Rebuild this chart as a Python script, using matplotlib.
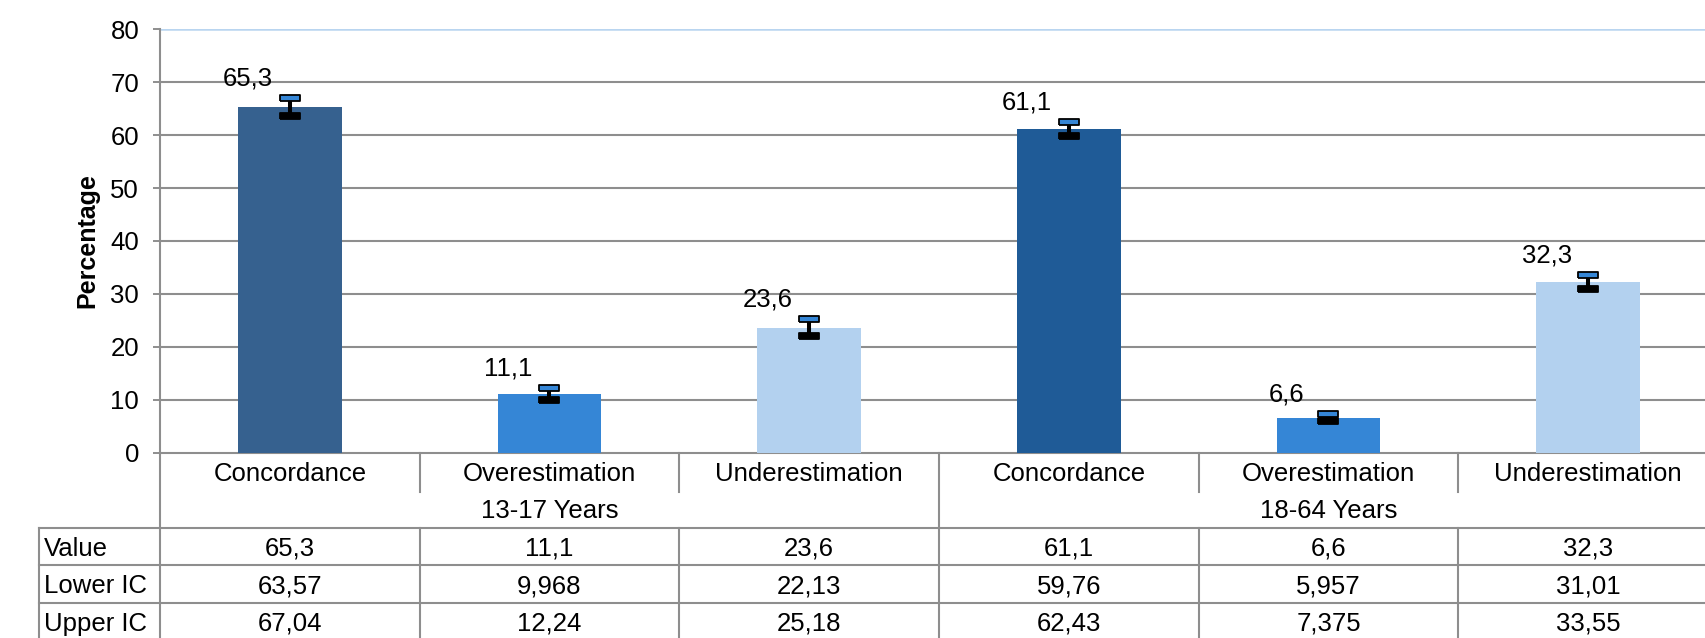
import matplotlib.pyplot as plt
from matplotlib.path import Path

plt.rcParams["font.family"] = ["Liberation Sans", "DejaVu Sans"]
plt.rcParams["font.size"] = 18.5

# ==============================================
# DATA

categories = ["Concordance", "Overestimation", "Underestimation"]
groups = ["13-17 Years", "18-64 Years"]
values = [65.3, 11.1, 23.6, 61.1, 6.6, 32.3]
lower_ic = [63.57, 9.968, 22.13, 59.76, 5.957, 31.01]
upper_ic = [67.04, 12.24, 25.18, 62.43, 7.375, 33.55]
row_labels = ["Value", "Lower IC", "Upper IC"]
bar_colors = ["#36618f", "#3586d6", "#b3d1ef", "#1f5b97", "#3586d6", "#b3d1ef"]

y_max = 80
y_step = 10


def fmt(v):
    return str(v).replace(".", ",")


# ==============================================
# PLOT

W, H = 1706, 638
fig = plt.figure(figsize=(W / 100, H / 100), dpi=100)

# plot area runs a bit past the right edge of the picture
left_px, right_px, top_px, zero_px, table_bottom_px = 160, 1718, 29.4, 452.6, 640
ax = fig.add_axes([left_px / W, (H - zero_px) / H, (right_px - left_px) / W, (zero_px - top_px) / H])

grid_color = "#8e8e8e"
fs = 18.5
n = len(values)
x = list(range(n))

ax.bar(x, values, width=0.4, color=bar_colors, zorder=3)

# error bars: black stem, blue top cap, black bottom cap
err_low = [v - lo for v, lo in zip(values, lower_ic)]
err_high = [hi - v for v, hi in zip(values, upper_ic)]
ax.errorbar(x, values, yerr=[err_low, err_high], fmt="none", ecolor="black", elinewidth=2.9, capsize=0, zorder=4)
cap = Path([(-1, -0.28), (1, -0.28), (1, 0.28), (-1, 0.28), (-1, -0.28)])
ax.plot(x, upper_ic, ls="none", marker=cap, ms=14, mfc="#3586d6", mec="black", mew=1.3, zorder=5)
ax.plot(x, lower_ic, ls="none", marker=cap, ms=14, mfc="black", mec="black", mew=1.3, zorder=5)

# value labels, up and to the left of each bar
for xi, v, hi in zip(x, values, upper_ic):
    ax.text(xi - 0.16, hi + 3.7, fmt(v), ha="center", va="center", fontsize=fs, zorder=6)

ax.set_xlim(-0.5, n - 0.5)
ax.set_ylim(0, y_max)
ax.set_yticks(range(0, y_max + 1, y_step))
ax.set_xticks([])
ax.tick_params(axis="y", direction="out", length=5, width=1.4, color=grid_color, pad=10, labelsize=fs)

for yv in range(y_step, y_max, y_step):
    ax.axhline(yv, color=grid_color, lw=1.5, zorder=1)
ax.axhline(y_max, color="#b9d5f0", lw=1.8, zorder=1)

for s in ["top", "right"]:
    ax.spines[s].set_visible(False)
for s in ["left", "bottom"]:
    ax.spines[s].set_color(grid_color)
    ax.spines[s].set_linewidth(1.5)

ax.set_ylabel("Percentage", fontsize=18, fontweight="bold")
ax.yaxis.set_label_coords(-0.039, 0.5)

# ==============================================
# TABLE BELOW THE AXIS

tab = fig.add_axes([left_px / W, (H - table_bottom_px) / H, (right_px - left_px) / W, (table_bottom_px - zero_px) / H])
tab.set_xlim(-0.5, n - 0.5)
tab.set_ylim(5, 0)
tab.axis("off")

label_col = -0.5 - (left_px - 39) / ((right_px - left_px) / n)
line_kw = dict(color=grid_color, lw=1.5, clip_on=False)
dy = 0.06

# category and group labels
for i in x:
    tab.text(i, 0.5 + dy, categories[i % len(categories)], ha="center", va="center", fontsize=fs)
per_group = len(categories)
for g, name in enumerate(groups):
    tab.text(g * per_group + (per_group - 1) / 2, 1.5 + dy, name, ha="center", va="center", fontsize=fs)

# data rows
for r, (label, row) in enumerate(zip(row_labels, [values, lower_ic, upper_ic])):
    yr = 2.5 + r + dy
    tab.text(label_col + 0.02, yr, label, ha="left", va="center", fontsize=fs)
    for i, v in zip(x, row):
        tab.text(i, yr, fmt(v), ha="center", va="center", fontsize=fs)

# grid of the table
for yr in [2, 3, 4, 5]:
    tab.plot([label_col, n - 0.5], [yr, yr], **line_kw)
tab.plot([label_col, label_col], [2, 5], **line_kw)
tab.plot([-0.5, -0.5], [0, 5], **line_kw)
for b in range(1, n):
    if b % per_group == 0:
        tab.plot([b - 0.5, b - 0.5], [0, 5], **line_kw)
    else:
        tab.plot([b - 0.5, b - 0.5], [0, 1.05], **line_kw)
        tab.plot([b - 0.5, b - 0.5], [2, 5], **line_kw)

fig.savefig("out.png", dpi=100)
